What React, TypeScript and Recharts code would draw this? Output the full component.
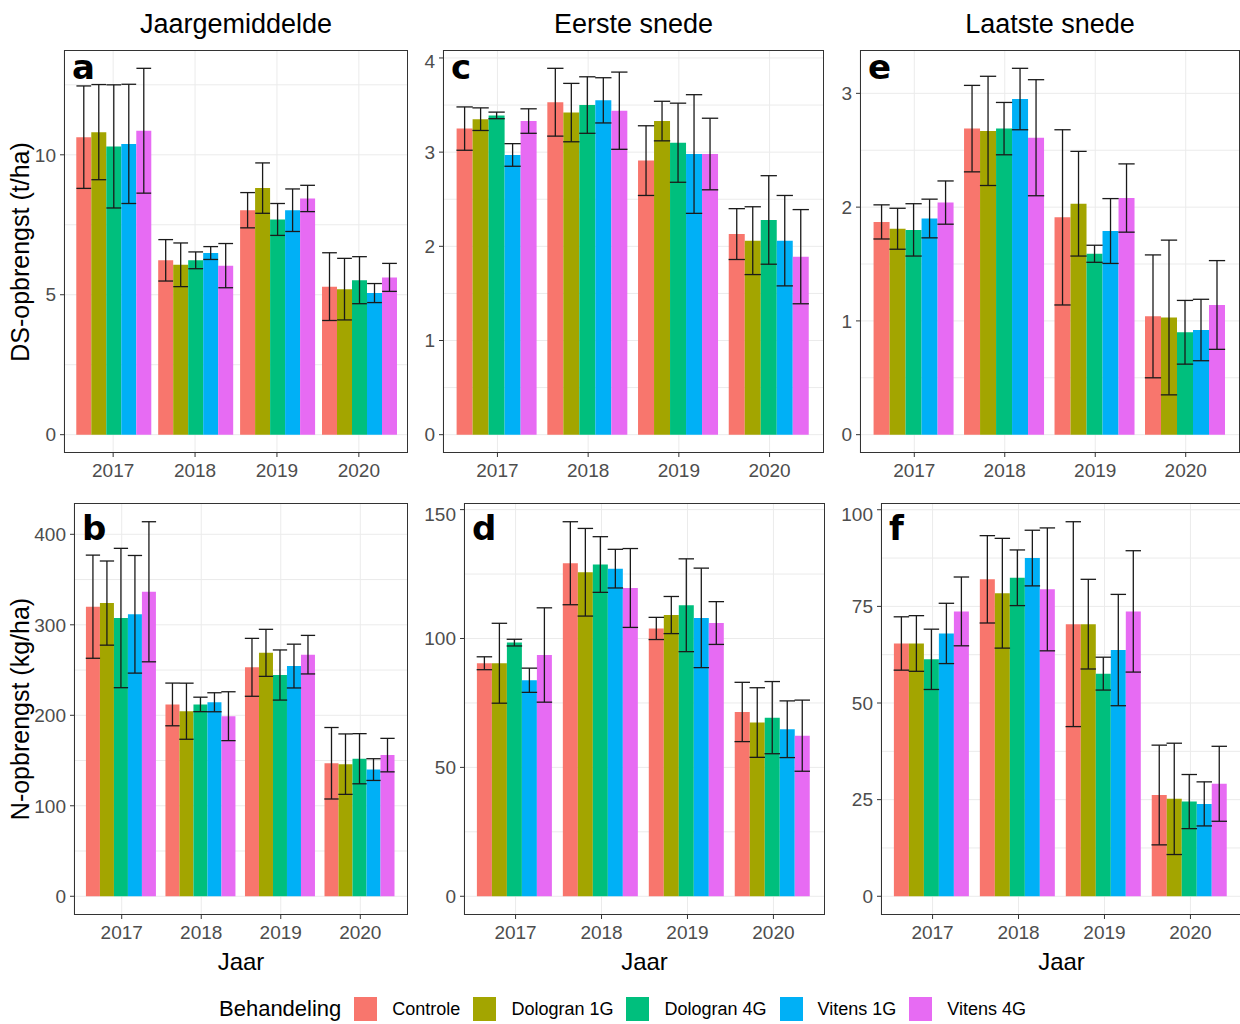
import React from 'react';
import { BarChart, Bar, XAxis, YAxis, CartesianGrid, ErrorBar } from 'recharts';

const years = ['2017', '2018', '2019', '2020'];
const treatments = ['Controle', 'Dologran 1G', 'Dologran 4G', 'Vitens 1G', 'Vitens 4G'];
const colors = ['#F8766D', '#A3A500', '#00BF7D', '#00B0F6', '#E76BF3'];

// rows = treatment, columns = year
const dsAnnualMean = [
  [10.63, 6.23, 8.02, 5.29],
  [10.81, 6.07, 8.81, 5.2],
  [10.3, 6.23, 7.69, 5.52],
  [10.39, 6.49, 8.02, 5.06],
  [10.86, 6.04, 8.44, 5.62],
];
const dsAnnualSd = [
  [1.83, 0.74, 0.63, 1.21],
  [1.7, 0.78, 0.9, 1.1],
  [2.2, 0.3, 0.57, 0.84],
  [2.13, 0.23, 0.76, 0.34],
  [2.23, 0.79, 0.47, 0.5],
];
const dsFirstMean = [
  [3.25, 3.53, 2.91, 2.13],
  [3.35, 3.42, 3.33, 2.06],
  [3.39, 3.5, 3.1, 2.28],
  [2.97, 3.55, 2.98, 2.06],
  [3.33, 3.44, 2.98, 1.89],
];
const dsFirstSd = [
  [0.23, 0.36, 0.37, 0.27],
  [0.12, 0.31, 0.21, 0.36],
  [0.035, 0.3, 0.42, 0.47],
  [0.12, 0.24, 0.63, 0.48],
  [0.13, 0.41, 0.38, 0.5],
];
const dsLastMean = [
  [1.87, 2.69, 1.91, 1.04],
  [1.81, 2.67, 2.03, 1.03],
  [1.8, 2.69, 1.59, 0.9],
  [1.9, 2.95, 1.79, 0.92],
  [2.04, 2.61, 2.08, 1.14],
];
const dsLastSd = [
  [0.15, 0.38, 0.77, 0.54],
  [0.18, 0.48, 0.46, 0.68],
  [0.23, 0.23, 0.075, 0.28],
  [0.17, 0.27, 0.285, 0.27],
  [0.19, 0.51, 0.3, 0.39],
];
const nAnnualMean = [
  [320, 212, 253, 147],
  [324, 204.5, 269, 146],
  [307.5, 212, 244.5, 152],
  [311.6, 214.4, 254.4, 140],
  [336.5, 199, 267, 156],
];
const nAnnualSd = [
  [57, 23.6, 32, 39.5],
  [46.5, 31, 26, 33.4],
  [77, 8, 27.7, 27.7],
  [65, 10.5, 24.2, 12],
  [77.4, 27, 21.3, 18.5],
];
const nFirstMean = [
  [90.4, 129.2, 103.9, 71.5],
  [90.4, 125.7, 109.1, 67.4],
  [98.4, 128.7, 112.9, 69.3],
  [83.8, 127.1, 108, 64.8],
  [93.6, 119.6, 106, 62.3],
];
const nFirstSd = [
  [2.5, 16.1, 4.3, 11.5],
  [15.5, 17, 7.2, 13.5],
  [1.3, 10.8, 18, 14],
  [4.7, 7.5, 19.3, 11],
  [18.3, 15.3, 8.3, 13.8],
];
const nLastMean = [
  [65.4, 82, 70.4, 26.2],
  [65.4, 78.4, 70.4, 25.2],
  [61.3, 82.4, 57.6, 24.5],
  [68, 87.5, 63.7, 23.9],
  [73.7, 79.4, 73.7, 29.1],
];
const nLastSd = [
  [6.9, 11.3, 26.5, 12.9],
  [7.2, 14.2, 11.6, 14.4],
  [7.8, 7.2, 4.25, 7],
  [7.8, 7.2, 14.4, 5.7],
  [8.9, 15.9, 15.7, 9.7],
];

const dsAnnualTicks = [0, 5, 10];
const dsFirstTicks = [0, 1, 2, 3, 4];
const dsLastTicks = [0, 1, 2, 3];
const nAnnualTicks = [0, 100, 200, 300, 400];
const nFirstTicks = [0, 50, 100, 150];
const nLastTicks = [0, 25, 50, 75, 100];

const columnTitles = ['Jaargemiddelde', 'Eerste snede', 'Laatste snede'];
const rowTitles = ['DS-opbrengst (t/ha)', 'N-opbrengst (kg/ha)'];
const xTitle = 'Jaar';
const legendTitle = 'Behandeling';

const FONT = '"Liberation Sans", Arial, sans-serif';

function buildRows(mean: number[][], sd: number[][]) {
  return years.map((y, j) => {
    const row: any = { year: y };
    treatments.forEach((_, i) => {
      row['m' + i] = mean[i][j];
      row['e' + i] = sd[i][j];
    });
    return row;
  });
}

type PanelProps = {
  mean: number[][];
  sd: number[][];
  ticks: number[];
  L: number; T: number; R: number; B: number;
  tag: string;
  tagTop: number;
};

function Panel({ mean, sd, ticks, L, T, R, B, tag, tagTop }: PanelProps) {
  const rows = buildRows(mean, sd);
  let max = 0;
  mean.forEach((r, i) => r.forEach((v, j) => { max = Math.max(max, v + sd[i][j]); }));
  const lo = -0.05 * max;
  const hi = max * 1.05;
  const step = ticks[1] - ticks[0];
  const gridVals: number[] = [];
  for (let v = ticks[0]; v <= hi; v += step / 2) gridVals.push(v);
  const yw = 60;
  const xh = 40;
  const w = R - L;
  const h = B - T;
  const pad = w / 42;
  const band = (w - 2 * pad) / years.length;
  const halfBar = (band * 0.9) / treatments.length / 2;
  const tickStyle = { fill: '#4D4D4D', fontSize: 19, fontFamily: FONT };
  return (
    <>
      <div style={{ position: 'absolute', left: L - yw, top: T }}>
        <BarChart
          width={w + yw}
          height={h + xh}
          data={rows}
          margin={{ top: 0, right: 0, bottom: 0, left: 0 }}
          barCategoryGap="5%"
          barGap={0}
        >
          <CartesianGrid stroke="#EBEBEB" strokeWidth={1} horizontalValues={gridVals} />
          <XAxis
            dataKey="year"
            height={xh}
            padding={{ left: pad, right: pad }}
            axisLine={false}
            tickLine={{ stroke: '#333333' }}
            tickSize={4}
            tickMargin={7}
            tick={tickStyle}
            interval={0}
          />
          <YAxis
            type="number"
            width={yw}
            domain={[lo, hi]}
            ticks={ticks}
            allowDataOverflow
            axisLine={false}
            tickLine={{ stroke: '#333333' }}
            tickSize={4}
            tickMargin={4}
            tick={tickStyle}
          />
          {treatments.map((t, i) => (
            <Bar key={t} dataKey={'m' + i} name={t} fill={colors[i]} isAnimationActive={false}>
              <ErrorBar dataKey={'e' + i} width={halfBar} stroke="#1A1A1A" strokeWidth={1.3} direction="y" />
            </Bar>
          ))}
        </BarChart>
      </div>
      <div
        style={{
          position: 'absolute', left: L, top: T, width: w, height: h,
          border: '1.3px solid #333333', boxSizing: 'border-box', pointerEvents: 'none',
        }}
      />
      <div
        style={{
          position: 'absolute', left: L + 8, top: T + tagTop, fontSize: 34, lineHeight: '34px',
          fontWeight: 'bold', fontFamily: '"DejaVu Sans", sans-serif', color: '#000',
        }}
      >
        {tag}
      </div>
    </>
  );
}

export default function App() {
  const top = { T: 50, B: 453 };
  const bot = { T: 503, B: 915 };
  const cols = [
    { L: 64, R: 408 },
    { L: 443, R: 824 },
    { L: 860, R: 1240 },
  ];
  const colsB = [
    { L: 74, R: 408 },
    { L: 464, R: 825 },
    { L: 881, R: 1242 },
  ];
  return (
    <div
      style={{
        position: 'absolute', left: 0, top: 0, width: 1240, height: 1024,
        overflow: 'hidden', background: '#fff', fontFamily: FONT,
      }}
    >
      <Panel mean={dsAnnualMean} sd={dsAnnualSd} ticks={dsAnnualTicks} {...cols[0]} {...top} tag="a" tagTop={0} />
      <Panel mean={dsFirstMean} sd={dsFirstSd} ticks={dsFirstTicks} {...cols[1]} {...top} tag="c" tagTop={0} />
      <Panel mean={dsLastMean} sd={dsLastSd} ticks={dsLastTicks} {...cols[2]} {...top} tag="e" tagTop={0} />
      <Panel mean={nAnnualMean} sd={nAnnualSd} ticks={nAnnualTicks} {...colsB[0]} {...bot} tag="b" tagTop={8} />
      <Panel mean={nFirstMean} sd={nFirstSd} ticks={nFirstTicks} {...colsB[1]} {...bot} tag="d" tagTop={8} />
      <Panel mean={nLastMean} sd={nLastSd} ticks={nLastTicks} {...colsB[2]} {...bot} tag="f" tagTop={8} />

      {columnTitles.map((t, i) => (
        <div
          key={t}
          style={{
            position: 'absolute', left: cols[i].L, width: cols[i].R - cols[i].L, top: 8, height: 32,
            lineHeight: '32px', textAlign: 'center', fontSize: 27, color: '#000',
          }}
        >
          {t}
        </div>
      ))}

      {rowTitles.map((t, i) => {
        const cy = i === 0 ? (top.T + top.B) / 2 : (bot.T + bot.B) / 2;
        return (
          <div
            key={t}
            style={{
              position: 'absolute', left: 20 - 200, top: cy - 15, width: 400, height: 30,
              lineHeight: '30px', textAlign: 'center', fontSize: 25, color: '#000',
              transform: 'rotate(-90deg)',
            }}
          >
            {t}
          </div>
        );
      })}

      {colsB.map((c, i) => (
        <div
          key={i}
          style={{
            position: 'absolute', left: (c.L + c.R) / 2 - 100, top: 947, width: 200, height: 30,
            lineHeight: '30px', textAlign: 'center', fontSize: 24, color: '#000',
          }}
        >
          {xTitle}
        </div>
      ))}

      <div
        style={{
          position: 'absolute', left: 219, top: 996, height: 26, display: 'flex',
          alignItems: 'center', whiteSpace: 'nowrap',
        }}
      >
        <span style={{ fontSize: 22, color: '#000', marginRight: 13 }}>{legendTitle}</span>
        {treatments.map((t, i) => (
          <React.Fragment key={t}>
            <span style={{ display: 'inline-block', width: 23, height: 24, background: colors[i] }} />
            <span style={{ fontSize: 18, color: '#000', marginLeft: 15, marginRight: 13 }}>{t}</span>
          </React.Fragment>
        ))}
      </div>
    </div>
  );
}
